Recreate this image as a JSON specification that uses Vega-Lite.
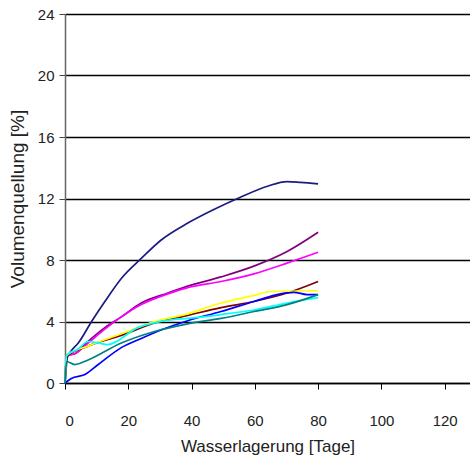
{
  "$schema": "https://vega.github.io/schema/vega-lite/v6.json",
  "width": 405,
  "height": 369,
  "autosize": {"type": "none"},
  "padding": {"left": 65, "top": 14, "right": 0, "bottom": 89},
  "background": "white",
  "config": {"view": {"stroke": null}, "font": "Liberation Sans"},
  "data": {"values": [
    {"s":"A","d":0,"v":0},{"s":"A","d":0.8,"v":1.7},{"s":"A","d":2,"v":2.1},{"s":"A","d":4.2,"v":2.6},{"s":"A","d":8.4,"v":4.0},{"s":"A","d":12.6,"v":5.3},{"s":"A","d":17.8,"v":6.8},{"s":"A","d":24.1,"v":8.1},{"s":"A","d":30.4,"v":9.3},{"s":"A","d":38.8,"v":10.4},{"s":"A","d":47.2,"v":11.3},{"s":"A","d":55.6,"v":12.1},{"s":"A","d":64,"v":12.8},{"s":"A","d":70.2,"v":13.1},{"s":"A","d":74.4,"v":13.05},{"s":"A","d":80,"v":12.95},
    {"s":"B","d":0,"v":0},{"s":"B","d":0.5,"v":1.8},{"s":"B","d":3.1,"v":1.9},{"s":"B","d":7.3,"v":2.7},{"s":"B","d":12.6,"v":3.6},{"s":"B","d":17.8,"v":4.3},{"s":"B","d":24.1,"v":5.2},{"s":"B","d":32.5,"v":5.85},{"s":"B","d":38.8,"v":6.3},{"s":"B","d":49.3,"v":6.9},{"s":"B","d":59.7,"v":7.6},{"s":"B","d":70.2,"v":8.55},{"s":"B","d":80,"v":9.8},
    {"s":"C","d":0,"v":0},{"s":"C","d":0.5,"v":1.8},{"s":"C","d":3.1,"v":1.9},{"s":"C","d":7.3,"v":2.6},{"s":"C","d":12.6,"v":3.5},{"s":"C","d":17.8,"v":4.3},{"s":"C","d":24.1,"v":5.1},{"s":"C","d":32.5,"v":5.8},{"s":"C","d":38.8,"v":6.2},{"s":"C","d":49.3,"v":6.6},{"s":"C","d":59.7,"v":7.1},{"s":"C","d":70.2,"v":7.8},{"s":"C","d":80,"v":8.5},
    {"s":"D","d":0,"v":0},{"s":"D","d":0.5,"v":1.7},{"s":"D","d":7.3,"v":2.4},{"s":"D","d":17.8,"v":3.1},{"s":"D","d":28.3,"v":3.9},{"s":"D","d":38.8,"v":4.4},{"s":"D","d":49.3,"v":4.9},{"s":"D","d":59.7,"v":5.3},{"s":"D","d":70.2,"v":5.85},{"s":"D","d":80,"v":6.6},
    {"s":"E","d":0,"v":0},{"s":"E","d":0.5,"v":1.8},{"s":"E","d":7.3,"v":2.4},{"s":"E","d":17.8,"v":3.2},{"s":"E","d":28.3,"v":4.0},{"s":"E","d":38.8,"v":4.5},{"s":"E","d":49.3,"v":5.2},{"s":"E","d":59.7,"v":5.7},{"s":"E","d":64.9,"v":5.95},{"s":"E","d":80,"v":6.0},
    {"s":"F","d":0,"v":0},{"s":"F","d":2,"v":0.3},{"s":"F","d":6.3,"v":0.55},{"s":"F","d":10.5,"v":1.2},{"s":"F","d":17.8,"v":2.3},{"s":"F","d":24.1,"v":2.9},{"s":"F","d":30.4,"v":3.45},{"s":"F","d":38.8,"v":4.05},{"s":"F","d":49.3,"v":4.65},{"s":"F","d":59.7,"v":5.3},{"s":"F","d":68.1,"v":5.8},{"s":"F","d":72.3,"v":5.9},{"s":"F","d":76.5,"v":5.75},{"s":"F","d":80,"v":5.75},
    {"s":"G","d":0,"v":0},{"s":"G","d":0.5,"v":1.8},{"s":"G","d":4,"v":2.2},{"s":"G","d":7.3,"v":2.7},{"s":"G","d":10.5,"v":2.6},{"s":"G","d":13.5,"v":2.5},{"s":"G","d":23,"v":3.6},{"s":"G","d":33.5,"v":4.1},{"s":"G","d":38.8,"v":4.2},{"s":"G","d":49.3,"v":4.45},{"s":"G","d":59.7,"v":4.75},{"s":"G","d":70.2,"v":5.2},{"s":"G","d":80,"v":5.55},
    {"s":"H","d":0,"v":0},{"s":"H","d":0.5,"v":1.4},{"s":"H","d":3.1,"v":1.2},{"s":"H","d":7.3,"v":1.5},{"s":"H","d":17.8,"v":2.6},{"s":"H","d":28.3,"v":3.35},{"s":"H","d":38.8,"v":3.85},{"s":"H","d":49.3,"v":4.2},{"s":"H","d":59.7,"v":4.65},{"s":"H","d":70.2,"v":5.1},{"s":"H","d":80,"v":5.75}
  ]},
  "mark": {"type": "line", "interpolate": "monotone", "strokeWidth": 1.7},
  "encoding": {
    "x": {"field": "d", "type": "quantitative", "scale": {"domain": [0, 128], "nice": false},
      "axis": {"title": "Wasserlagerung [Tage]", "values": [0,20,40,60,80,100,120], "grid": false,
        "domainColor": "black", "domainWidth": 1.5, "tickColor": "black", "tickSize": 6,
        "labelFontSize": 15, "labelColor": "#222", "labelPadding": 24,
        "titleFontSize": 17, "titleFontWeight": "normal", "titleColor": "#222", "titlePadding": 10}},
    "y": {"field": "v", "type": "quantitative", "scale": {"domain": [0, 24], "nice": false},
      "axis": {"title": "Volumenquellung [%]", "values": [0,4,8,12,16,20,24], "grid": true, "gridColor": "black", "gridWidth": 1.5, "gridOpacity": 1,
        "domainColor": "#666", "domainWidth": 1.5, "tickColor": "#444", "tickSize": 6,
        "labelFontSize": 15, "labelColor": "#222", "labelPadding": 5,
        "titleFontSize": 19, "titleFontWeight": "normal", "titleColor": "#222", "titlePadding": 10}},
    "color": {"field": "s", "type": "nominal", "legend": null,
      "scale": {"domain": ["A","B","C","D","E","F","G","H"],
        "range": ["#1c1c80", "#800080", "#ff00ff", "#800000", "#ffff00", "#0000ff", "#00ffff", "#008080"]}},
    "order": {"field": "s"}
  }
}
